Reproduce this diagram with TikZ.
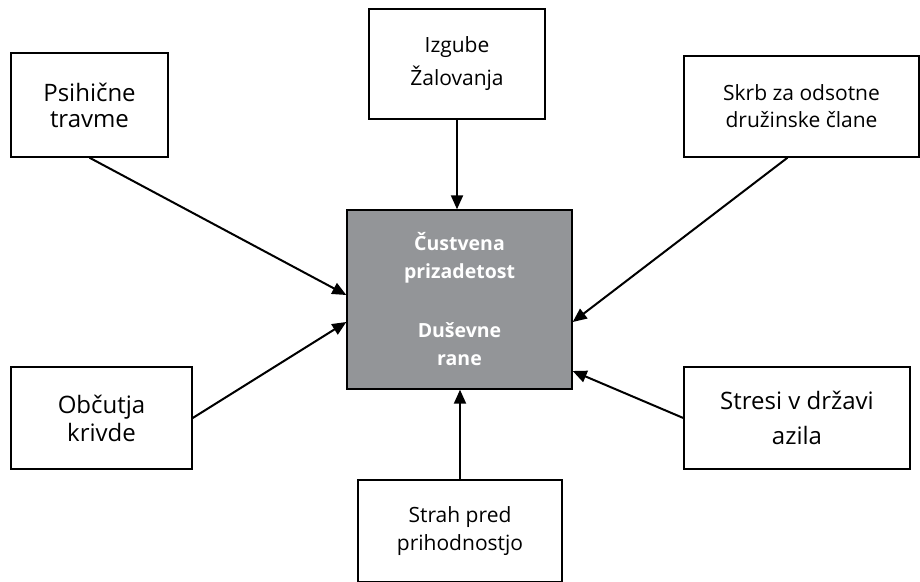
\documentclass[tikz,border=0pt]{standalone}
\usepackage{fontspec}
\setmainfont{Open Sans}
\usetikzlibrary{arrows.meta,calc}
\definecolor{boxgray}{HTML}{939598}
\begin{document}
\begin{tikzpicture}[x=1pt,y=-1pt,
  box/.style={draw=black,line width=1.4pt,fill=white,align=center,inner sep=0pt},
  arr/.style={line width=2pt,-{Triangle[length=14pt,width=12pt]}}]
\useasboundingbox (0,0) rectangle (920,581);
\node[box,minimum width=157pt,minimum height=104pt,font=\fontsize{24}{26}\selectfont] (psi) at (89.5,105) {Psihične\\travme};
\node[box,minimum width=176pt,minimum height=110pt,font=\fontsize{21}{33}\selectfont] (izg) at (457,64) {Izgube\\Žalovanja};
\node[box,minimum width=235pt,minimum height=101pt,font=\fontsize{21}{27}\selectfont] (skrb) at (801.5,106.5) {Skrb za odsotne\\družinske člane};
\node[box,fill=boxgray,text=white,minimum width=225pt,minimum height=179pt,font=\bfseries\fontsize{19.5}{28}\selectfont] (ctr) at (459.5,299.5) {Čustvena\\prizadetost\\[31pt]Duševne\\rane};
\node[box,minimum width=181pt,minimum height=102pt,font=\fontsize{24}{28}\selectfont] (obc) at (101.5,418) {Občutja\\krivde};
\node[box,minimum width=226pt,minimum height=102pt,font=\fontsize{24}{35}\selectfont] (str) at (797,418) {Stresi v državi\\azila};
\node[box,minimum width=204pt,minimum height=102pt,font=\fontsize{21}{28}\selectfont] (fut) at (460,531) {Strah pred\\prihodnostjo};
\draw[arr] (psi.south) -- ($(ctr.west)+(0,-4.5)$);
\draw[arr] (obc.east) -- ($(ctr.west)+(0,22.5)$);
\draw[arr] (izg.south) -- (izg.south |- ctr.north);
\draw[arr] ($(skrb.south)+(-14,0)$) -- ($(ctr.east)+(0,22.5)$);
\draw[arr] (str.west) -- ($(ctr.east)+(0,71.5)$);
\draw[arr] (fut.north) -- (fut.north |- ctr.south);
\end{tikzpicture}
\end{document}
